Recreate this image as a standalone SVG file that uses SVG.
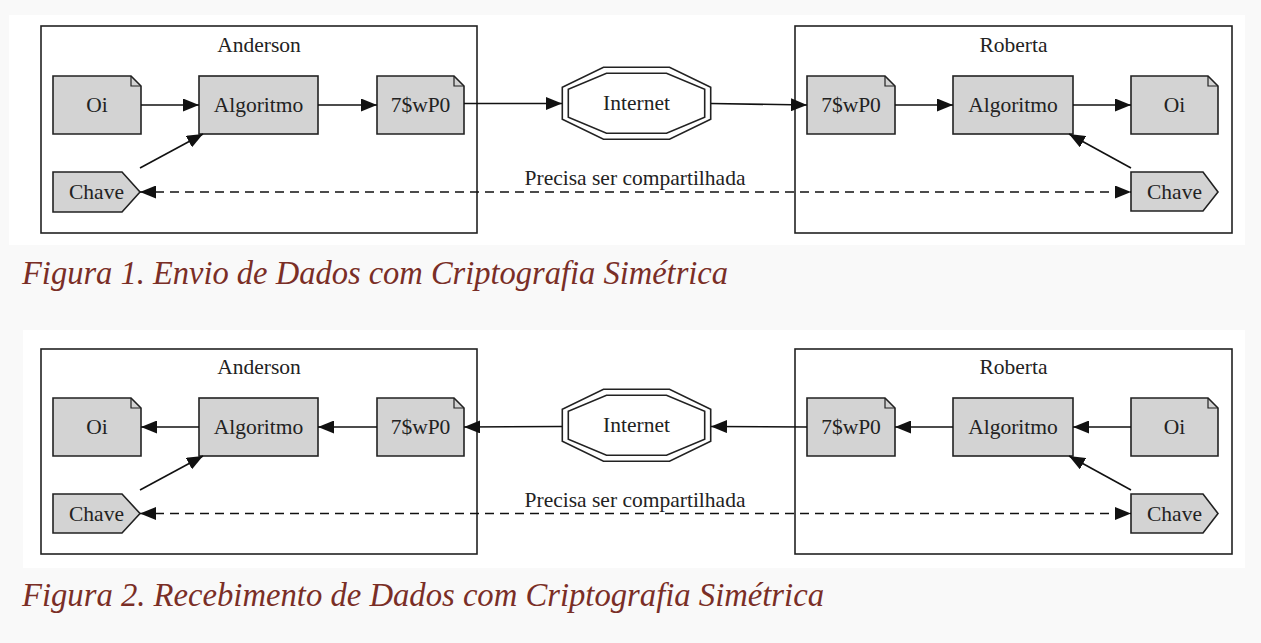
<svg xmlns="http://www.w3.org/2000/svg" width="1261" height="643" viewBox="0 0 1261 643">
<style>
.node{fill:#d3d3d3;stroke:#222;stroke-width:1.6}
.fold{fill:none;stroke:#222;stroke-width:1.2}
.clu{fill:none;stroke:#222;stroke-width:1.6}
.oct{fill:none;stroke:#222;stroke-width:1.6}
.lbl{font-family:"Liberation Serif","Times New Roman",serif;font-size:21.5px;fill:#222;text-anchor:middle}
.edge{fill:none;stroke:#111;stroke-width:1.6}
.dash{stroke-dasharray:9,6}
.cap{font-family:"Liberation Serif","DejaVu Serif",serif;font-style:italic;font-size:33px;fill:#7a2e26}
</style>
<defs>
<marker id="ah" markerUnits="userSpaceOnUse" markerWidth="16" markerHeight="13" refX="16" refY="6.5" orient="auto-start-reverse" viewBox="0 0 16 13">
<path d="M0,0 L16,6.5 L0,13 Z" fill="#111"/>
</marker>
</defs>
<rect x="0" y="0" width="1261" height="643" fill="#f9f9f9"/>
<rect x="9" y="15" width="1236" height="230" fill="#ffffff"/>
<rect x="23" y="330" width="1222" height="238" fill="#ffffff"/>

<!-- Figure 1 -->
<g id="fig1">
<g id="f1-anderson"><rect class="clu" x="41" y="26" width="436" height="207"/><text class="lbl" x="259" y="51.5">Anderson</text></g>
<g id="f1-roberta"><rect class="clu" x="795" y="26" width="437" height="207"/><text class="lbl" x="1013.5" y="51.5">Roberta</text></g>
<g id="f1-a-oi"><path class="node" d="M53,76 H131 L141,86 V134 H53 Z"/><path class="fold" d="M131,76 V86 H141"/><text class="lbl" x="97" y="112">Oi</text></g>
<g id="f1-a-algo"><rect class="node" x="199" y="76" width="119" height="58"/><text class="lbl" x="258.5" y="112">Algoritmo</text></g>
<g id="f1-a-cif"><path class="node" d="M377,76 H454 L464,86 V134 H377 Z"/><path class="fold" d="M454,76 V86 H464"/><text class="lbl" x="420.5" y="112">7$wP0</text></g>
<g id="f1-a-chave"><path class="node" d="M53,172 H122 L140,192 L122,212 H53 Z"/><text class="lbl" x="96.5" y="198.5">Chave</text></g>
<g id="f1-internet"><polygon class="oct" points="603.5,67.3 669.5,67.3 710.7,87.3 710.7,119.3 669.5,139.3 603.5,139.3 562.3,119.3 562.3,87.3"/><polygon class="oct" points="606.5,73.3 666.5,73.3 704.7,89.3 704.7,117.3 666.5,133.3 606.5,133.3 568.3,117.3 568.3,89.3"/><text class="lbl" x="636.5" y="110">Internet</text></g>
<g id="f1-r-cif"><path class="node" d="M807,76 H885 L895,86 V134 H807 Z"/><path class="fold" d="M885,76 V86 H895"/><text class="lbl" x="851" y="112">7$wP0</text></g>
<g id="f1-r-algo"><rect class="node" x="953" y="76" width="120" height="58"/><text class="lbl" x="1013" y="112">Algoritmo</text></g>
<g id="f1-r-oi"><path class="node" d="M1131,76 H1208 L1218,86 V134 H1131 Z"/><path class="fold" d="M1208,76 V86 H1218"/><text class="lbl" x="1174.5" y="112">Oi</text></g>
<g id="f1-r-chave"><path class="node" d="M1131,172 H1203 L1218,192 L1203,211 H1131 Z"/><text class="lbl" x="1174.5" y="198.5">Chave</text></g>
<g id="f1-edges">
<line class="edge" x1="141" y1="105" x2="199" y2="105" marker-end="url(#ah)"/>
<line class="edge" x1="318" y1="105" x2="377" y2="105" marker-end="url(#ah)"/>
<line class="edge" x1="464" y1="103.5" x2="562" y2="103.5" marker-end="url(#ah)"/>
<line class="edge" x1="711" y1="103.5" x2="807" y2="105" marker-end="url(#ah)"/>
<line class="edge" x1="895" y1="105" x2="953" y2="105" marker-end="url(#ah)"/>
<line class="edge" x1="1073" y1="105" x2="1131" y2="105" marker-end="url(#ah)"/>
<line class="edge" x1="140" y1="168" x2="203" y2="134" marker-end="url(#ah)"/>
<line class="edge" x1="1131" y1="168" x2="1069" y2="134" marker-end="url(#ah)"/>
<line class="edge dash" x1="140" y1="192" x2="1131" y2="192" marker-start="url(#ah)" marker-end="url(#ah)"/>
<text class="lbl" x="635" y="185">Precisa ser compartilhada</text>
</g>
</g>
<text class="cap" x="22" y="284" textLength="706" lengthAdjust="spacingAndGlyphs">Figura 1. Envio de Dados com Criptografia Simétrica</text>

<!-- Figure 2 -->
<g id="fig2" transform="translate(0,322)">
<g id="f2-anderson"><rect class="clu" x="41" y="27" width="436" height="205"/><text class="lbl" x="259" y="51.5">Anderson</text></g>
<g id="f2-roberta"><rect class="clu" x="795" y="27" width="437" height="205"/><text class="lbl" x="1013.5" y="51.5">Roberta</text></g>
<g id="f2-a-oi"><path class="node" d="M53,76 H131 L141,86 V134 H53 Z"/><path class="fold" d="M131,76 V86 H141"/><text class="lbl" x="97" y="112">Oi</text></g>
<g id="f2-a-algo"><rect class="node" x="199" y="76" width="119" height="58"/><text class="lbl" x="258.5" y="112">Algoritmo</text></g>
<g id="f2-a-cif"><path class="node" d="M377,76 H454 L464,86 V134 H377 Z"/><path class="fold" d="M454,76 V86 H464"/><text class="lbl" x="420.5" y="112">7$wP0</text></g>
<g id="f2-a-chave"><path class="node" d="M53,172 H122 L140,191.5 L122,211 H53 Z"/><text class="lbl" x="96.5" y="198.5">Chave</text></g>
<g id="f2-internet"><polygon class="oct" points="603.5,67.3 669.5,67.3 710.7,87.3 710.7,119.3 669.5,139.3 603.5,139.3 562.3,119.3 562.3,87.3"/><polygon class="oct" points="606.5,73.3 666.5,73.3 704.7,89.3 704.7,117.3 666.5,133.3 606.5,133.3 568.3,117.3 568.3,89.3"/><text class="lbl" x="636.5" y="110">Internet</text></g>
<g id="f2-r-cif"><path class="node" d="M807,76 H885 L895,86 V134 H807 Z"/><path class="fold" d="M885,76 V86 H895"/><text class="lbl" x="851" y="112">7$wP0</text></g>
<g id="f2-r-algo"><rect class="node" x="953" y="76" width="120" height="58"/><text class="lbl" x="1013" y="112">Algoritmo</text></g>
<g id="f2-r-oi"><path class="node" d="M1131,76 H1208 L1218,86 V134 H1131 Z"/><path class="fold" d="M1208,76 V86 H1218"/><text class="lbl" x="1174.5" y="112">Oi</text></g>
<g id="f2-r-chave"><path class="node" d="M1131,172 H1203 L1218,191.5 L1203,211 H1131 Z"/><text class="lbl" x="1174.5" y="198.5">Chave</text></g>
<g id="f2-edges">
<line class="edge" x1="199" y1="105" x2="141" y2="105" marker-end="url(#ah)"/>
<line class="edge" x1="377" y1="105" x2="318" y2="105" marker-end="url(#ah)"/>
<line class="edge" x1="562" y1="104.5" x2="464" y2="105" marker-end="url(#ah)"/>
<line class="edge" x1="807" y1="105" x2="711" y2="104.5" marker-end="url(#ah)"/>
<line class="edge" x1="953" y1="105" x2="895" y2="105" marker-end="url(#ah)"/>
<line class="edge" x1="1131" y1="105" x2="1073" y2="105" marker-end="url(#ah)"/>
<line class="edge" x1="140" y1="168" x2="203" y2="134" marker-end="url(#ah)"/>
<line class="edge" x1="1131" y1="168" x2="1069" y2="134" marker-end="url(#ah)"/>
<line class="edge dash" x1="140" y1="191.5" x2="1131" y2="191.5" marker-start="url(#ah)" marker-end="url(#ah)"/>
<text class="lbl" x="635" y="185">Precisa ser compartilhada</text>
</g>
</g>
<text class="cap" x="22" y="606" textLength="802" lengthAdjust="spacingAndGlyphs">Figura 2. Recebimento de Dados com Criptografia Simétrica</text>
</svg>
